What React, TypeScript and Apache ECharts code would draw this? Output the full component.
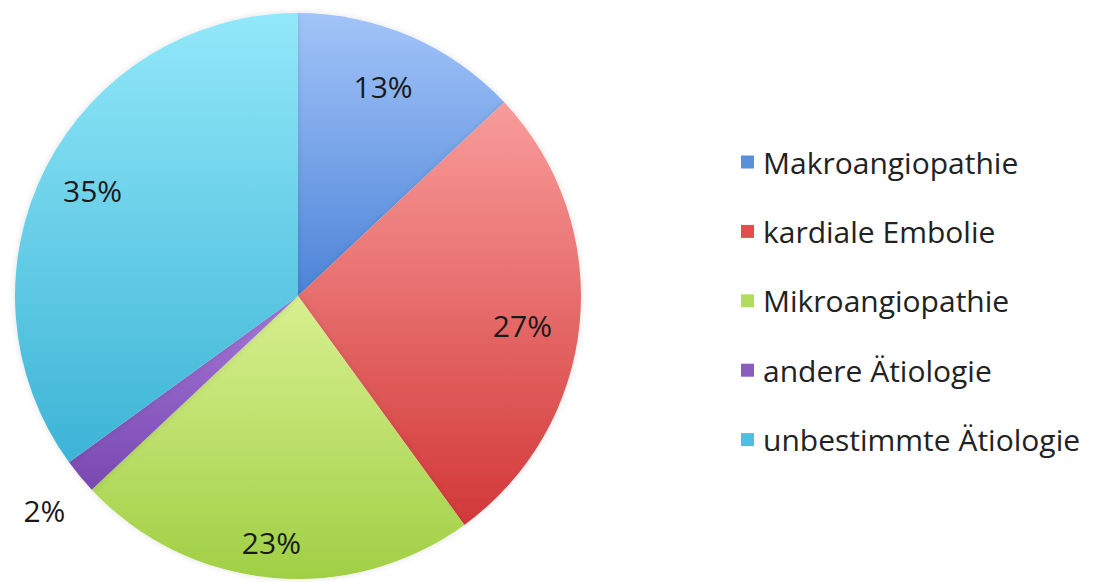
import React, { useEffect, useRef } from "react";
import * as echarts from "echarts";

const categories = [
  "Makroangiopathie",
  "kardiale Embolie",
  "Mikroangiopathie",
  "andere Ätiologie",
  "unbestimmte Ätiologie",
];
const values = [13, 27, 23, 2, 35];
const topColors = ["#a2c4f8", "#f89c9a", "#d8f090", "#a678d8", "#92e8f9"];
const bottomColors = ["#4c84d8", "#d23838", "#a0cf44", "#7848b0", "#3cb4d6"];
const legendColors = ["#5a8fdc", "#e04e4e", "#b2dc5e", "#8a5cc0", "#4cc0e0"];

const CX = 298;
const CY = 296;
const R = 283;
// small nudges of the inside labels, as Excel placed them
const labelNudge = [
  [-6, 1],
  [-4, 8],
  [-5, 18],
  [0, 0],
  [-1, -1],
];

export default function App() {
  const ref = useRef<HTMLDivElement>(null);
  useEffect(() => {
    if (!ref.current) return;
    const chart = echarts.init(ref.current, null, { renderer: "svg" });
    const grad = (i: number) =>
      new echarts.graphic.LinearGradient(0, 0, 0, 1, [
        { offset: 0, color: topColors[i] },
        { offset: 1, color: bottomColors[i] },
      ]);
    const mainData = categories.map((name, i) => ({
      name,
      value: values[i],
      itemStyle: { color: grad(i) },
    }));
    const small = (i: number) => values[i] < 5;
    const insideData = categories.map((name, i) => ({
      name,
      value: values[i],
      label: { show: !small(i) },
    }));
    const outsideData = categories.map((name, i) => ({
      name,
      value: values[i],
      label: { show: small(i) },
    }));
    const labelFont = {
      formatter: "{c}%",
      fontFamily: "Open Sans",
      fontSize: 30,
      color: "#1a1a1a",
    };
    const overlay = {
      type: "pie",
      center: [CX, CY],
      startAngle: 90,
      clockwise: true,
      silent: true,
      legendHoverLink: false,
      itemStyle: { color: "rgba(0,0,0,0)", borderWidth: 0 },
      labelLine: { show: false },
    };
    chart.setOption({
      animation: false,
      backgroundColor: "#ffffff",
      color: legendColors,
      legend: {
        orient: "vertical",
        left: 736,
        top: 141,
        itemWidth: 13,
        itemHeight: 13,
        itemGap: 37.4,
        icon: "rect",
        data: categories.map((name, i) => ({
          name,
          itemStyle: { color: legendColors[i] },
        })),
        textStyle: {
          fontFamily: "Open Sans",
          fontSize: 30,
          lineHeight: 32,
          color: "#222222",
          padding: [0, 0, 0, 4],
        },
      },
      series: [
        {
          type: "pie",
          center: [CX, CY],
          radius: [0, R],
          startAngle: 90,
          clockwise: true,
          silent: true,
          label: { show: false },
          labelLine: { show: false },
          itemStyle: {
            borderWidth: 0,
            shadowBlur: 6,
            shadowColor: "rgba(0,0,0,0.12)",
          },
          data: mainData,
        },
        {
          ...overlay,
          radius: [R * 0.6, R],
          label: { show: true, position: "inside", ...labelFont },
          labelLayout: (p: any) => ({
            dx: labelNudge[p.dataIndex][0],
            dy: labelNudge[p.dataIndex][1],
          }),
          data: insideData,
        },
        {
          ...overlay,
          radius: [R, R * 1.36],
          label: { show: true, position: "inside", ...labelFont },
          labelLayout: () => ({ dx: 6, dy: 0 }),
          data: outsideData,
        },
      ],
    });
    return () => chart.dispose();
  }, []);
  return (
    <div
      ref={ref}
      style={{ position: "absolute", left: 0, top: 0, width: 1093, height: 582 }}
    />
  );
}
